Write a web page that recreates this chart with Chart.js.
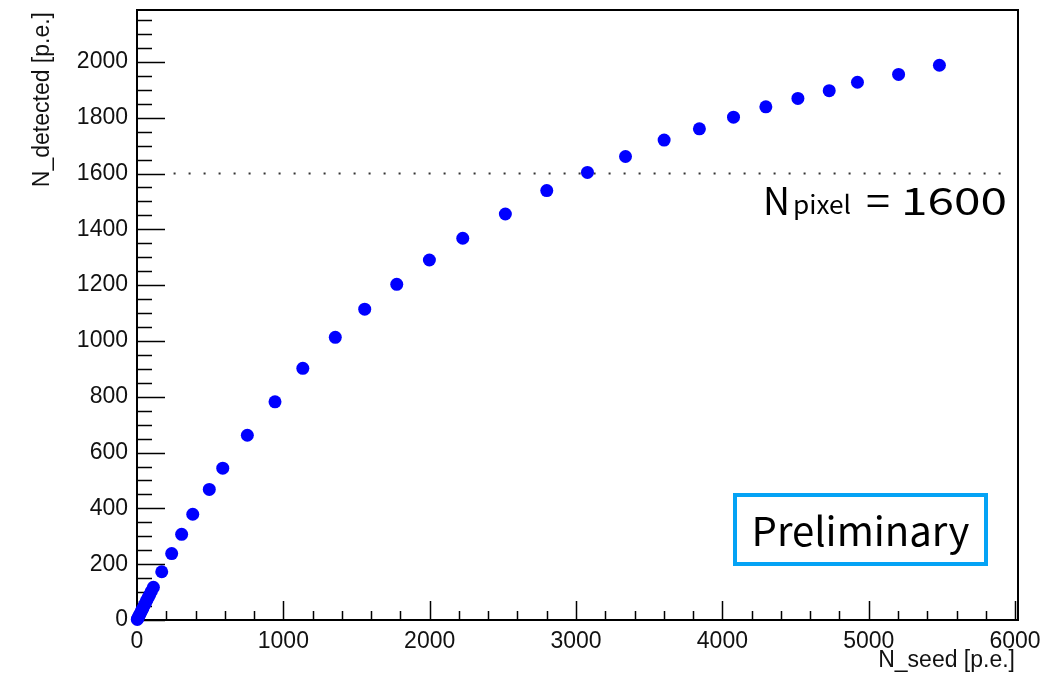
<!DOCTYPE html>
<html>
<head>
<meta charset="utf-8">
<title>N_detected vs N_seed</title>
<script src="https://cdn.jsdelivr.net/npm/chart.js@4.4.1/dist/chart.umd.min.js"></script>
<style>
  html, body { margin: 0; padding: 0; background: #fff; }
  canvas { display: block; }
</style>
</head>
<body>
<canvas id="myChart" width="1048" height="675"></canvas>
<script>
// seed photoelectrons vs detected photoelectrons
var seedPE = [2, 6, 12, 18, 25, 32, 40, 48, 57, 66, 76, 87, 98, 112,
  169, 237, 305, 381, 494, 586, 754, 943, 1133, 1355, 1556, 1775, 1998,
  2226, 2517, 2800, 3078, 3338, 3602, 3843, 4076, 4297, 4516, 4730, 4923,
  5204, 5483];
var detectedPE = [2, 6, 13, 19, 26, 34, 42, 51, 60, 70, 80, 91, 103, 117,
  173, 238, 307, 379, 468, 544, 662, 782, 902, 1013, 1114, 1203, 1290,
  1368, 1455, 1539, 1604, 1661, 1720, 1760, 1802, 1839, 1869, 1897, 1927,
  1955, 1988];

var xTickValues = [0, 1000, 2000, 3000, 4000, 5000, 6000];
var yTickValues = [0, 200, 400, 600, 800, 1000, 1200, 1400, 1600, 1800, 2000];
var xMinorStep = 200;
var yMinorStep = 50;
var xRange = [0, 6020];
var yRange = [0, 2186];

// pixel count of the sensor, shown as a dotted line
var nPixel = 1600;
var nPixelSpan = [250, 5960];

var FONT = '"Liberation Sans", Arial, sans-serif';
var JFONT = '"Noto Sans CJK JP", "Noto Sans", sans-serif';

var points = seedPE.map(function (x, i) { return { x: x, y: detectedPE[i] }; });

// draw text squeezed/stretched to a given width
function fitText(ctx, text, x, y, width, size) {
  ctx.font = size + 'px ' + JFONT;
  var w = ctx.measureText(text).width;
  ctx.save();
  ctx.translate(x, y);
  ctx.scale(width / w, 1);
  ctx.fillText(text, 0, 0);
  ctx.restore();
}

// ROOT-like frame with inward ticks
var frameAndTicks = {
  id: 'frameAndTicks',
  beforeDatasetsDraw: function (chart) {
    var ctx = chart.ctx, a = chart.chartArea;
    var xs = chart.scales.x, ys = chart.scales.y;
    ctx.save();
    ctx.strokeStyle = '#000';
    ctx.lineWidth = 1.5;
    ctx.beginPath();
    for (var v = 0; v <= yRange[1]; v += yMinorStep) {
      var py = Math.round(ys.getPixelForValue(v)) + 0.5;
      var len = (v % 200 === 0) ? 28 : 15;
      ctx.moveTo(a.left, py);
      ctx.lineTo(a.left + len, py);
    }
    for (var u = 0; u <= xRange[1]; u += xMinorStep) {
      var px = Math.round(xs.getPixelForValue(u)) + 0.5;
      var l2 = (u % 1000 === 0) ? 19 : 9;
      ctx.moveTo(px, a.bottom);
      ctx.lineTo(px, a.bottom - l2);
    }
    ctx.stroke();
    ctx.lineWidth = 2;
    ctx.strokeRect(a.left, a.top, a.right - a.left, a.bottom - a.top);
    ctx.restore();
  },
  afterDraw: function (chart) {
    var ctx = chart.ctx, a = chart.chartArea;
    var ys = chart.scales.y;
    ctx.save();
    ctx.fillStyle = '#111';
    ctx.font = '23px ' + FONT;
    // axis titles, aligned to the axis ends
    ctx.textAlign = 'right';
    ctx.textBaseline = 'alphabetic';
    ctx.fillText('N_seed [p.e.]', a.right - 3, 667);
    ctx.save();
    ctx.translate(49, a.top + 2);
    ctx.rotate(-Math.PI / 2);
    ctx.fillText('N_detected [p.e.]', 0, 0);
    ctx.restore();

    // N_pixel label under the dotted line
    var base = ys.getPixelForValue(nPixel) + 41;
    ctx.textAlign = 'left';
    ctx.fillStyle = '#000';
    fitText(ctx, 'N', 763, base, 27, 38);
    fitText(ctx, 'pixel', 793, base - 1, 58, 25);
    fitText(ctx, '=', 866, base, 24, 38);
    fitText(ctx, '1600', 901, base, 106, 38);

    // Preliminary box
    var bx = a.right - 285, by = a.bottom - 127, bw = 255, bh = 73;
    ctx.strokeStyle = '#05a3f5';
    ctx.lineWidth = 4;
    ctx.strokeRect(bx + 2, by + 2, bw - 4, bh - 4);
    ctx.font = '40px ' + JFONT;
    var wp = ctx.measureText('Preliminary').width;
    var fs = 40 * 218 / wp;
    ctx.font = fs + 'px ' + JFONT;
    ctx.textAlign = 'center';
    ctx.fillText('Preliminary', bx + bw / 2, by + 53);
    ctx.restore();
  }
};

function plainLabel(value) { return String(value); }

new Chart(document.getElementById('myChart'), {
  type: 'scatter',
  data: {
    datasets: [{
      label: 'N_detected',
      data: points,
      pointStyle: 'circle',
      pointRadius: 6.5,
      pointBorderWidth: 0,
      backgroundColor: '#0000ff',
      borderColor: '#0000ff',
      clip: false,
      order: 1
    }, {
      type: 'line',
      label: 'N_pixel',
      data: nPixelSpan.map(function (x) { return { x: x, y: nPixel }; }),
      borderColor: '#333',
      borderWidth: 2,
      borderDash: [2, 13],
      pointRadius: 0,
      fill: false,
      order: 2
    }]
  },
  options: {
    responsive: false,
    devicePixelRatio: 1,
    animation: false,
    layout: { padding: { top: 10, right: 30, left: 0, bottom: 0 } },
    plugins: { legend: { display: false }, tooltip: { enabled: false } },
    scales: {
      x: {
        type: 'linear',
        min: xRange[0],
        max: xRange[1],
        afterBuildTicks: function (scale) {
          scale.ticks = xTickValues.map(function (v) { return { value: v }; });
        },
        afterFit: function (scale) {
          scale.height = 55;
          scale.paddingLeft = 0;
          scale.paddingRight = 0;
        },
        grid: { display: false, drawTicks: false },
        border: { display: false },
        ticks: { padding: 8, color: '#111', font: { family: FONT, size: 23 }, maxRotation: 0, callback: plainLabel }
      },
      y: {
        type: 'linear',
        min: yRange[0],
        max: yRange[1],
        afterBuildTicks: function (scale) {
          scale.ticks = yTickValues.map(function (v) { return { value: v }; });
        },
        afterFit: function (scale) {
          scale.width = 137;
          scale.paddingTop = 0;
          scale.paddingBottom = 0;
        },
        grid: { display: false, drawTicks: false },
        border: { display: false },
        ticks: { padding: 9, color: '#111', font: { family: FONT, size: 23 }, callback: plainLabel }
      }
    }
  },
  plugins: [frameAndTicks]
});
</script>
</body>
</html>
